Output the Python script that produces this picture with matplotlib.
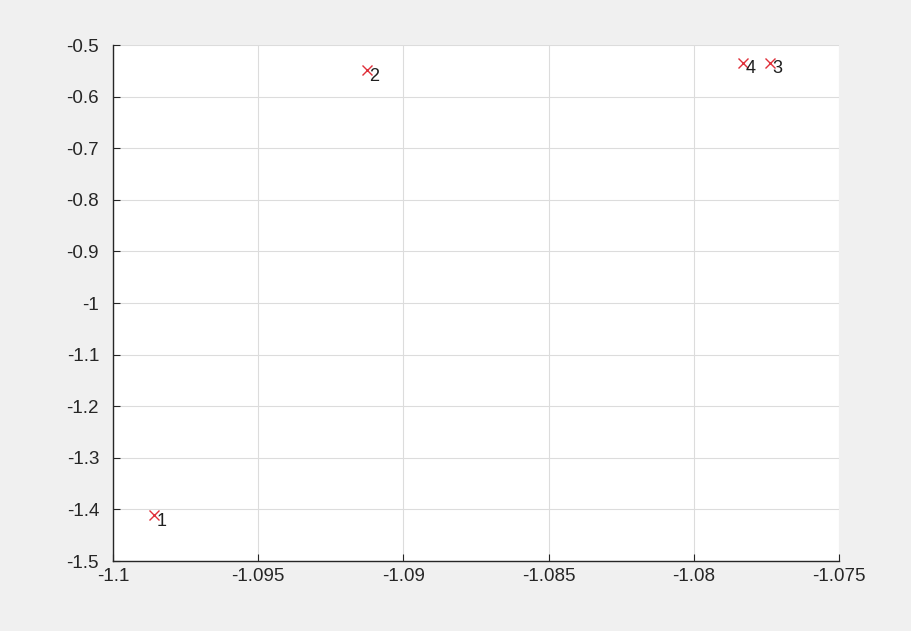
import matplotlib.pyplot as plt
from matplotlib.ticker import MultipleLocator, FuncFormatter

plt.rcParams['font.family'] = ['Liberation Sans', 'DejaVu Sans']

# node coordinates
px = [-1.09859, -1.09126, -1.07738, -1.07831]
py = [-1.411, -0.548, -0.534, -0.534]
names = ['1', '2', '3', '4']

fig = plt.figure(figsize=(9.11, 6.31), dpi=100, facecolor='#f0f0f0')
ax = fig.add_axes([113/911, 1 - 561/631, (839-113)/911, (561-45)/631])
ax.set_facecolor('white')

ax.plot(px, py, 'x', color='#e0303a', markersize=7, markeredgewidth=1.0, zorder=3)
for x, y, s in zip(px, py, names):
    ax.text(x + 0.00008, y + 0.004, s, fontsize=13, color='#202020',
            ha='left', va='top', zorder=4)

ax.set_xlim(-1.1, -1.075)
ax.set_ylim(-1.5, -0.5)
ax.xaxis.set_major_locator(MultipleLocator(0.005))
ax.yaxis.set_major_locator(MultipleLocator(0.1))
fmt = FuncFormatter(lambda v, p: '%g' % round(v, 4))
ax.xaxis.set_major_formatter(fmt)
ax.yaxis.set_major_formatter(fmt)

ax.grid(True, color='#dcdcdc', linewidth=0.8)
ax.set_axisbelow(True)
ax.spines['top'].set_visible(False)
ax.spines['right'].set_visible(False)
for s in ['left', 'bottom']:
    ax.spines[s].set_color('#262626')
    ax.spines[s].set_linewidth(1.0)
ax.tick_params(direction='in', length=5, width=0.8, colors='#262626',
               labelsize=13.5)
ax.tick_params(axis='x', pad=5)
ax.tick_params(axis='y', pad=10)
ax.tick_params(top=False, right=False)

fig.savefig('out.png', dpi=100, facecolor=fig.get_facecolor())
